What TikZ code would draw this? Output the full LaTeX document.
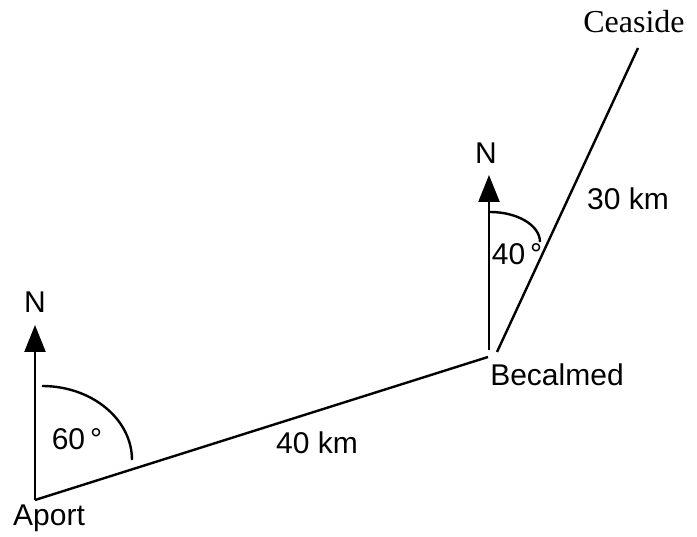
\documentclass[tikz,border=0pt]{standalone}
\usepackage{fontspec}
\setmainfont{Liberation Sans}
\newfontfamily\ceafont{Liberation Serif}
\usetikzlibrary{arrows.meta}

\begin{document}
\begin{tikzpicture}[x=1pt,y=1pt,line width=2.4pt,
  every node/.style={font=\fontsize{30pt}{34pt}\selectfont,inner sep=0pt},
  north/.style={-{Triangle[length=27pt,width=21pt]}}]
  \useasboundingbox (0,0) rectangle (697,537);
  \coordinate (A) at (35,37);
  \coordinate (NA) at (35,212);
  \coordinate (Bn) at (489,187);
  \coordinate (Bw) at (488,180);
  \coordinate (Bc) at (497,185);
  \coordinate (NB) at (489,362);
  \coordinate (C) at (638,489);
  \draw[north] (A) -- (NA);
  \draw[north] (Bn) -- (NB);
  \draw (A) -- (Bw);
  \draw (Bc) -- (C);
  \draw (42,151) arc[start angle=90,end angle=0,x radius=90,y radius=74];
  \draw (490,325) arc[start angle=90,end angle=0,x radius=50,y radius=30];
  \node (nA) at (35,235) {N};
  \node (nB) at (486,384) {N};
  \node (angA) at (77,98) {60\,°};
  \node (angB) at (517,283) {40\,°};
  \node (aport) at (49,18.5) {Aport};
  \node (becalmed) at (557,162) {Becalmed};
  \node (ceaside) at (634,515) {\ceafont\fontsize{32pt}{36pt}\selectfont Ceaside};
  \node (dAB) at (317,94) {40 km};
  \node (dBC) at (628,338) {30 km};
\end{tikzpicture}
\end{document}
